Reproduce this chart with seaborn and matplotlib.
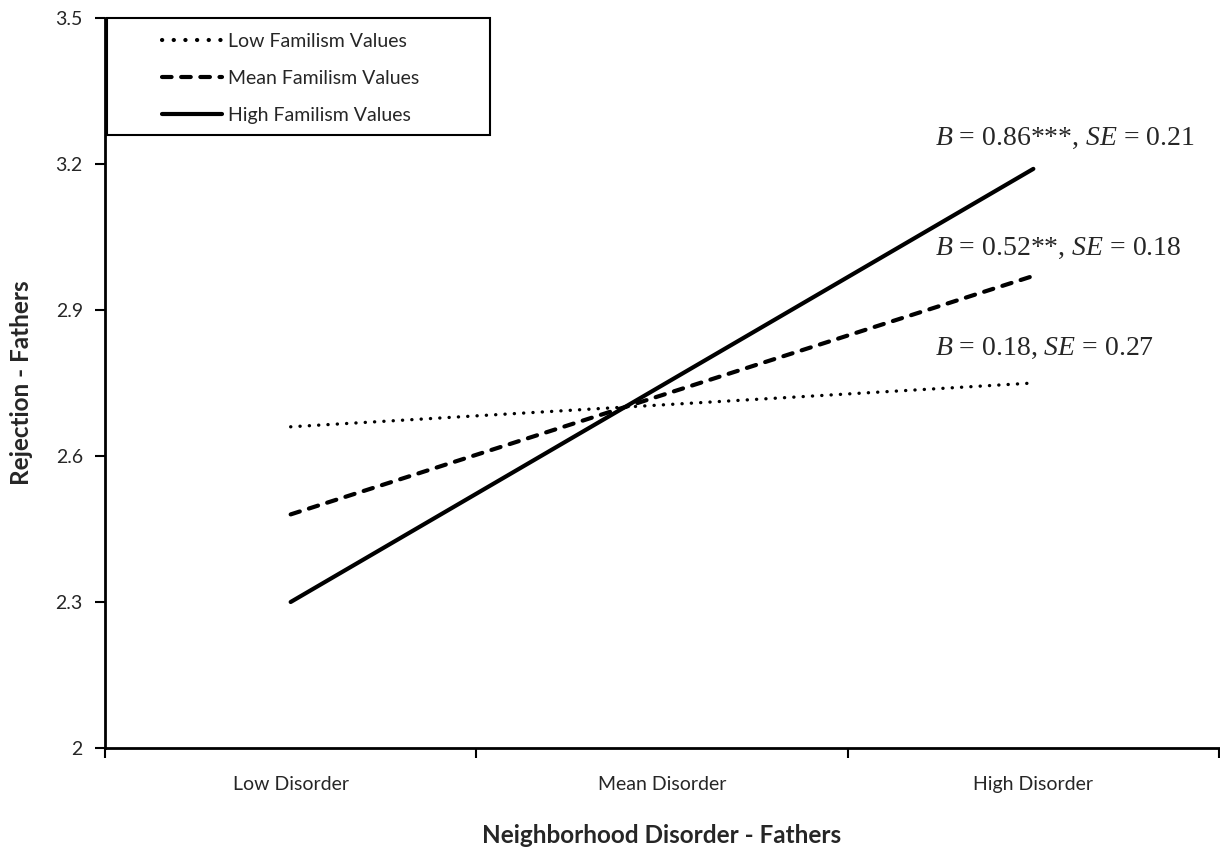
import numpy as np
import pandas as pd
import matplotlib
matplotlib.use("Agg")
import matplotlib.pyplot as plt
from matplotlib.patches import Rectangle
import seaborn as sns

# Data
disorder_levels = ["Low Disorder", "Mean Disorder", "High Disorder"]
low_familism = [2.66, 2.705, 2.75]
mean_familism = [2.48, 2.725, 2.97]
high_familism = [2.30, 2.745, 3.19]
series_names = ["Low Familism Values", "Mean Familism Values", "High Familism Values"]
slope_labels = [r"$B$ = 0.18, $SE$ = 0.27",
                r"$B$ = 0.52**, $SE$ = 0.18",
                r"$B$ = 0.86***, $SE$ = 0.21"]
y_ticks = [2.0, 2.3, 2.6, 2.9, 3.2, 3.5]
y_tick_labels = ["2", "2.3", "2.6", "2.9", "3.2", "3.5"]

W, H = 1220, 865

sns.set_theme(style="ticks")
plt.rcParams["font.family"] = ["Lato", "DejaVu Sans"]
plt.rcParams["mathtext.fontset"] = "custom"
plt.rcParams["mathtext.rm"] = "Liberation Serif"
plt.rcParams["mathtext.it"] = "Liberation Serif:italic"

rows = []
for name, vals in zip(series_names, [low_familism, mean_familism, high_familism]):
    for i, v in enumerate(vals):
        rows.append({"x": i, "y": v, "group": name})
df = pd.DataFrame(rows)

fig = plt.figure(figsize=(W / 100, H / 100), dpi=100)
ax = fig.add_axes([105 / W, 117 / H, 1114 / W, 730 / H])

sns.lineplot(data=df, x="x", y="y", style="group", hue="group",
             palette=["black", "black", "black"],
             dashes={"Low Familism Values": (0.05, 2.75),
                     "Mean Familism Values": (2.3, 2.3),
                     "High Familism Values": ""},
             style_order=series_names, hue_order=series_names,
             linewidth=3, ax=ax, legend=True)
ax.lines[0].set_linewidth(2.4)
for ln in ax.lines[:2]:
    ln.set_dash_capstyle("round")

ax.set_xlim(-0.5, 2.5)
ax.set_ylim(2.0, 3.5)
ax.set_yticks(y_ticks)
ax.set_yticklabels(y_tick_labels, fontsize=14)
ax.set_xticks([-0.5, 0.5, 1.5, 2.5])
ax.set_xticklabels([])
ax.set_xticks([0, 1, 2], minor=True)
ax.set_xticklabels(disorder_levels, minor=True, fontsize=14)
ax.tick_params(axis="x", which="minor", length=0, pad=20)
ax.tick_params(axis="both", which="major", length=7, width=1.5, color="black")
ax.tick_params(axis="y", pad=9)
for s in ["left", "bottom"]:
    ax.spines[s].set_linewidth(2)
    ax.spines[s].set_color("black")
sns.despine(ax=ax)

ax.set_xlabel("Neighborhood Disorder - Fathers", fontsize=17.5, fontweight="bold")
ax.xaxis.set_label_coords(0.5, -0.104)
ax.set_ylabel("Rejection - Fathers", fontsize=17.5, fontweight="bold")
ax.yaxis.set_label_coords(-0.0646, 0.5)

# slope annotations next to the right end of each line
for label, vals, dy in zip(slope_labels, [low_familism, mean_familism, high_familism],
                           [0.072, 0.057, 0.063]):
    ax.text(1.735, vals[-1] + dy, label, fontsize=20,
            family="Liberation Serif", va="center", ha="left")

# legend box (Excel style: wide left margin before the line samples)
frame = Rectangle((107 / W, 1 - 135 / H), (490 - 107) / W, (135 - 18) / H,
                  transform=fig.transFigure, facecolor="white", edgecolor="black",
                  linewidth=1.5, zorder=4, clip_on=False)
ax.add_patch(frame)
leg = ax.legend(loc="upper left", bbox_to_anchor=(162 / W, 1 - 33 / H),
                bbox_transform=fig.transFigure, borderaxespad=0, borderpad=0,
                fontsize=14, frameon=False, handlelength=3.1, handletextpad=0.3,
                labelspacing=1.03, title=None)
leg.set_zorder(5)
for h in leg.get_lines():
    h.set_color("black")
for h in leg.get_lines()[:2]:
    h.set_dash_capstyle("round")

plt.savefig("out.png", dpi=100)
plt.close()
